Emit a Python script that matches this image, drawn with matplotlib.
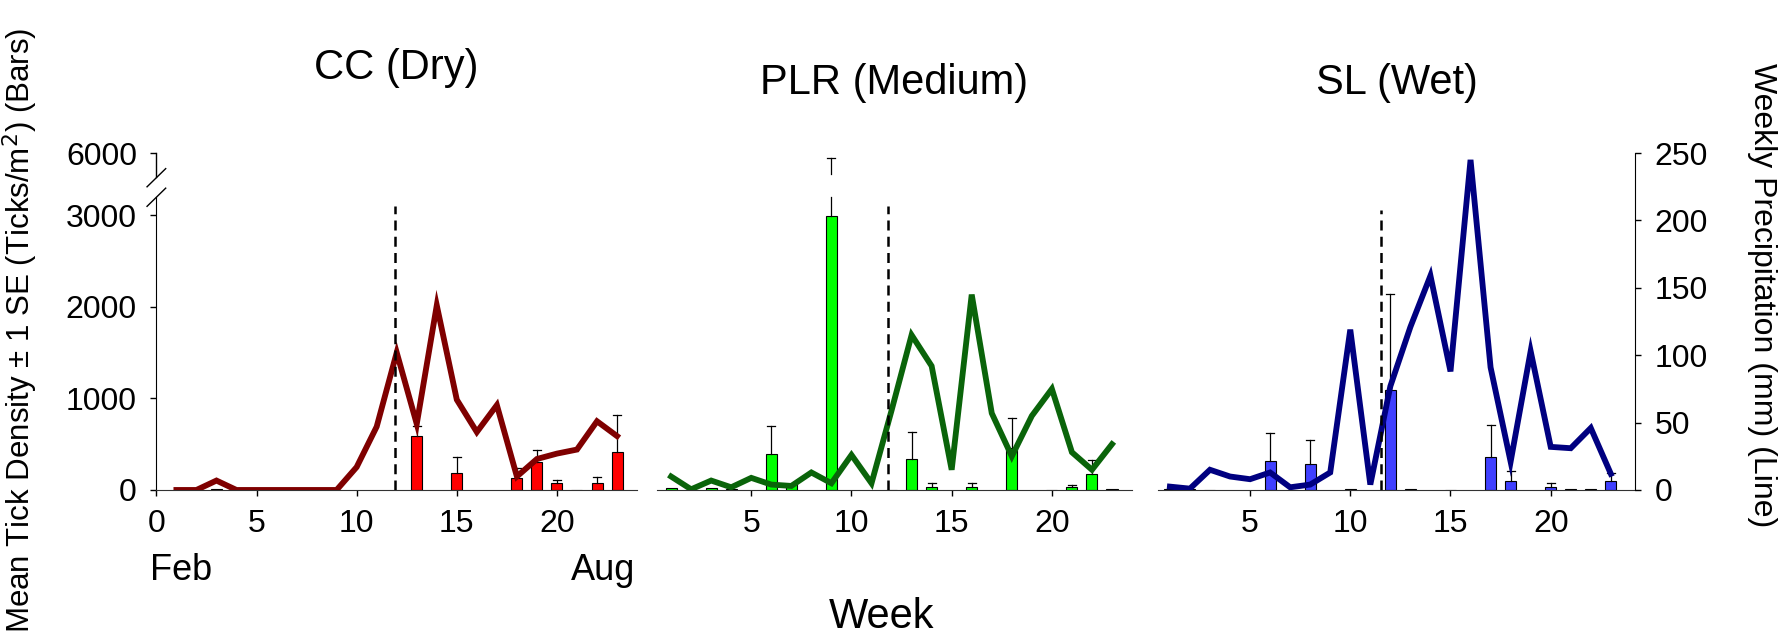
import numpy as np
import matplotlib.pyplot as plt
from matplotlib.scale import FuncScale

plt.rcParams['font.family'] = ['Liberation Sans', 'DejaVu Sans']

# weekly precipitation (mm), weeks 1-23
weeks = np.arange(1, 24)
cc_rain = [0, 0, 7, 0, 0, 0, 0, 0, 0, 17, 47, 102, 49, 137, 67, 43, 63, 10, 23, 27, 30, 51, 40]
plr_rain = [10, 0.5, 7, 2, 9, 4, 3, 13, 5, 26, 5, 59, 115, 92, 15, 145, 57, 25, 55, 75, 28, 15, 34]
sl_rain = [2.5, 1, 15, 10, 8, 13, 2, 4, 13, 119, 4, 77, 121, 159, 88, 245, 91, 21, 103, 32, 31, 46, 12]

# mean tick density (ticks/m2) and SE
cc_bar_weeks = [2, 3, 13, 15, 18, 19, 20, 21, 22, 23]
cc_ticks = [8, 10, 587, 181, 127, 308, 72, 5, 72, 417]
cc_se = [0, 0, 113, 181, 108, 127, 37, 0, 66, 405]

plr_bar_weeks = [1, 3, 4, 6, 7, 9, 12, 13, 14, 16, 18, 20, 21, 22, 23]
plr_ticks = [25, 25, 6, 388, 69, 2990, 4, 333, 33, 33, 460, 4, 33, 170, 10]
plr_se = [0, 0, 0, 308, 0, 2925, 0, 297, 39, 39, 326, 0, 21, 152, 0]

sl_bar_weeks = [1, 2, 3, 6, 8, 10, 12, 13, 15, 17, 18, 20, 21, 22, 23]
sl_ticks = [15, 10, 4, 319, 279, 6, 1087, 10, 3, 355, 98, 29, 6, 6, 98]
sl_se = [0, 0, 0, 304, 264, 0, 1051, 0, 0, 352, 109, 43, 0, 0, 90]

# week of the dashed marker in each site
cc_mark, plr_mark, sl_mark = 11.9, 11.8, 11.55

# broken y scale for the bars: 0-3200 linear, then a gap, then a short part up to 6000
brk_v = [-1000, 0, 3197, 5600, 6000, 12000]
brk_p = [-91.6, 0, 292.7, 313.3, 336.7, 688]


def fwd(v):
    return np.interp(v, brk_v, brk_p)


def inv(p):
    return np.interp(p, brk_p, brk_v)


def draw_err(ax, x, y, se):
    # error bars drawn by hand so the tall one can be cut at the axis break
    for xi, yi, ei in zip(x, y, se):
        if ei <= 0:
            continue
        top = yi + ei
        kw = dict(color='black', lw=0.9, zorder=3)
        if top > 3197:
            ax.plot([xi, xi], [yi, 3230], **kw)
            ax.plot([xi, xi], [5650, top], **kw)
        else:
            ax.plot([xi, xi], [yi, top], **kw)
        ax.plot([xi - 0.2, xi + 0.2], [top, top], **kw)


fig = plt.figure(figsize=(17.85, 6.38), dpi=100)

panels = [
    dict(rect=[0.0876, 0.232, 0.2693, 0.528], xlim=(0, 24), xt=[0, 5, 10, 15, 20],
         title='CC (Dry)', ty=1.253, rain=cc_rain, bw=cc_bar_weeks, bv=cc_ticks, se=cc_se,
         lc='#7f0000', fc='#ff0000', mark=cc_mark, mtop=3100),
    dict(rect=[0.3681, 0.232, 0.2661, 0.528], xlim=(0.3, 24), xt=[5, 10, 15, 20],
         title='PLR (Medium)', ty=1.209, rain=plr_rain, bw=plr_bar_weeks, bv=plr_ticks, se=plr_se,
         lc='#0a640a', fc='#00ff00', mark=plr_mark, mtop=3100),
    dict(rect=[0.6490, 0.232, 0.2669, 0.528], xlim=(0.43, 24.2), xt=[5, 10, 15, 20],
         title='SL (Wet)', ty=1.209, rain=sl_rain, bw=sl_bar_weeks, bv=sl_ticks, se=sl_se,
         lc='#000080', fc='#4040ff', mark=sl_mark, mtop=3060),
]

for i, p in enumerate(panels):
    ax = fig.add_axes(p['rect'])
    ax.set_yscale(FuncScale(ax.yaxis, (fwd, inv)))
    ax.set_ylim(0, 6000)
    ax.set_xlim(*p['xlim'])
    ax.set_xticks(p['xt'])
    ax.bar(p['bw'], p['bv'], width=0.55, color=p['fc'], edgecolor='black', lw=0.8, zorder=2)
    draw_err(ax, p['bw'], p['bv'], p['se'])

    for s in ['top', 'right']:
        ax.spines[s].set_visible(False)
    ax.spines['bottom'].set_color('#333333')
    ax.tick_params(axis='both', direction='out', length=4, width=1, labelsize=23, pad=10)

    if i == 0:
        ax.set_yticks([0, 1000, 2000, 3000, 6000])
        ax.spines['left'].set_bounds(0, 3197)
        ax.plot([0, 0], [5600, 6000], transform=ax.get_yaxis_transform(),
                color='black', lw=1, clip_on=False)
        for yb in [0.869, 0.927]:
            ax.plot([-0.0194, 0.0194], [yb - 0.027, yb + 0.027], transform=ax.transAxes,
                    color='black', lw=1, clip_on=False)
    else:
        ax.spines['left'].set_visible(False)
        ax.set_yticks([])

    ax2 = ax.twinx()
    ax2.set_ylim(0, 250)
    ax2.set_xlim(*p['xlim'])
    ax2.plot(weeks, p['rain'], color=p['lc'], lw=4.2, solid_joinstyle='miter', zorder=3)
    ax2.axvline(p['mark'], ymin=0, ymax=fwd(p['mtop']) / fwd(6000), color='black',
                lw=1.8, linestyle=(0, (4, 2.5)), zorder=4)
    for s in ['top', 'left', 'bottom']:
        ax2.spines[s].set_visible(False)
    if i == 2:
        ax2.set_yticks([0, 50, 100, 150, 200, 250])
        ax2.tick_params(axis='y', direction='out', length=4, width=1, labelsize=23, pad=10)
    else:
        ax2.spines['right'].set_visible(False)
        ax2.set_yticks([])

    ax.text(0.5, p['ty'], p['title'], transform=ax.transAxes, ha='center', va='center',
            fontsize=30)

fig.text(150 / 1785, 1 - 570 / 638, 'Feb', ha='left', va='center', fontsize=26)
fig.text(635 / 1785, 1 - 570 / 638, 'Aug', ha='right', va='center', fontsize=26)
fig.text(882 / 1785, 1 - 617 / 638, 'Week', ha='center', va='center', fontsize=30)
fig.text(20 / 1785, 1 - 330 / 638, 'Mean Tick Density \u00b1 1 SE (Ticks/m$^2$) (Bars)',
         rotation=90, ha='center', va='center', fontsize=22.5)
fig.text(1762 / 1785, 1 - 295 / 638, 'Weekly Precipitation (mm) (Line)',
         rotation=270, ha='center', va='center', fontsize=23)

fig.savefig('out.png', dpi=100)
